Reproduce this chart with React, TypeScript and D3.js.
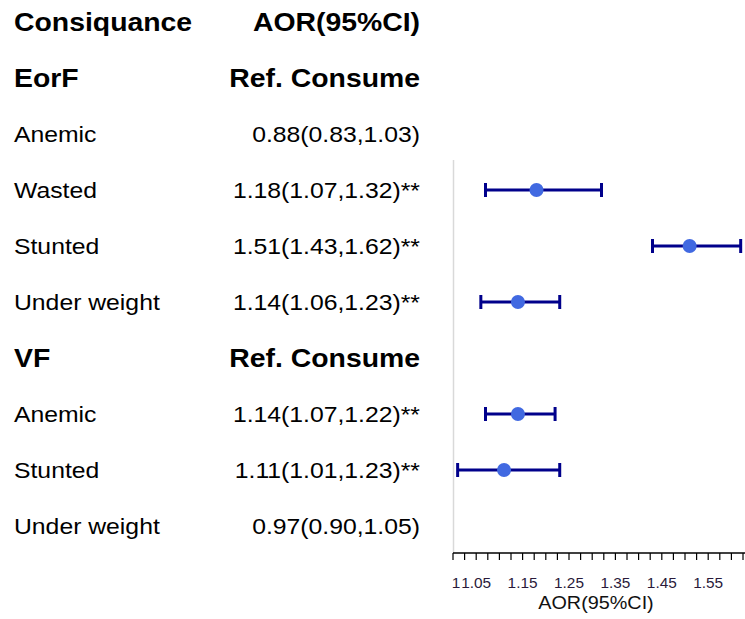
import React from "react";
import * as d3 from "d3";

const rowLabels = ["Consiquance", "EorF", "Anemic", "Wasted", "Stunted", "Under weight", "VF", "Anemic", "Stunted", "Under weight"];
const rowText = ["AOR(95%CI)", "Ref. Consume", "0.88(0.83,1.03)", "1.18(1.07,1.32)**", "1.51(1.43,1.62)**", "1.14(1.06,1.23)**", "Ref. Consume", "1.14(1.07,1.22)**", "1.11(1.01,1.23)**", "0.97(0.90,1.05)"];
const rowBold = [true, true, false, false, false, false, true, false, false, false];
const aor: (number | null)[] = [null, null, 0.88, 1.18, 1.51, 1.14, null, 1.14, 1.11, 0.97];
const lower: (number | null)[] = [null, null, 0.83, 1.07, 1.43, 1.06, null, 1.07, 1.01, 0.90];
const upper: (number | null)[] = [null, null, 1.03, 1.32, 1.62, 1.23, null, 1.22, 1.23, 1.05];
const tickValues = d3.range(0, 26).map((k) => 1 + k * 0.025);
const tickLabels = ["1", "1.05", "1.15", "1.25", "1.35", "1.45", "1.55"];
const axisTitle = "AOR(95%CI)";

export default function App() {
  const W = 745, H = 619;
  const x = d3.scaleLinear().domain([1, 1.6293]).range([453, 745]);
  const y = d3.scalePoint<number>().domain(d3.range(rowLabels.length)).range([22, 526]);
  const axisY = 553;
  const font = "'Liberation Sans', Arial, sans-serif";

  return (
    <svg width={W} height={H} style={{ position: "fixed", left: 0, top: 0, background: "#fff" }} fontFamily={font}>
      <rect width={W} height={H} fill="#fff" />
      {rowLabels.map((lab, i) => {
        const b = rowBold[i];
        const fs = b ? 25 : 22.5;
        const sx = b ? 1.135 : 1.1;
        const yy = (y(i) as number) + fs * 0.36;
        return (
          <g key={i}>
            <text transform={`translate(14,${yy}) scale(${sx},1)`} fontSize={fs} fontWeight={b ? "bold" : "normal"} fill="#000">{lab}</text>
            <text transform={`translate(420,${yy}) scale(${sx},1)`} textAnchor="end" fontSize={fs} fontWeight={b ? "bold" : "normal"} fill="#000">{rowText[i]}</text>
          </g>
        );
      })}
      <line x1={x(1) + 0.5} x2={x(1) + 0.5} y1={160} y2={axisY} stroke="#d9d9d9" strokeWidth={1.5} />
      {aor.map((v, i) => {
        if (v == null || lower[i] == null || upper[i] == null || (lower[i] as number) < 1) return null;
        const yy = y(i) as number;
        const x0 = x(lower[i] as number), x1 = x(upper[i] as number), xm = x(v);
        return (
          <g key={"e" + i}>
            <line x1={x0} x2={x1} y1={yy} y2={yy} stroke="#00008B" strokeWidth={3} />
            <line x1={x0} x2={x0} y1={yy - 7} y2={yy + 7} stroke="#00008B" strokeWidth={3} />
            <line x1={x1} x2={x1} y1={yy - 7} y2={yy + 7} stroke="#00008B" strokeWidth={3} />
            <circle cx={xm} cy={yy} r={7} fill="#4169E1" />
          </g>
        );
      })}
      <line x1={x(1)} x2={745} y1={axisY} y2={axisY} stroke="#000" strokeWidth={1.5} />
      {tickValues.map((t, i) => (
        <line key={"t" + i} x1={x(t)} x2={x(t)} y1={axisY} y2={axisY + 7} stroke="#000" strokeWidth={1.2} />
      ))}
      {tickLabels.map((t) => (
        <text key={"l" + t} transform={`translate(${x(+t) + (+t === 1 ? 3 : 0)},588) scale(1.1,1)`} textAnchor="middle" fontSize={14} fill="#2a1a3a">{t}</text>
      ))}
      <text transform={`translate(596,609) scale(1.1,1)`} textAnchor="middle" fontSize={18} fill="#111">{axisTitle}</text>
    </svg>
  );
}
